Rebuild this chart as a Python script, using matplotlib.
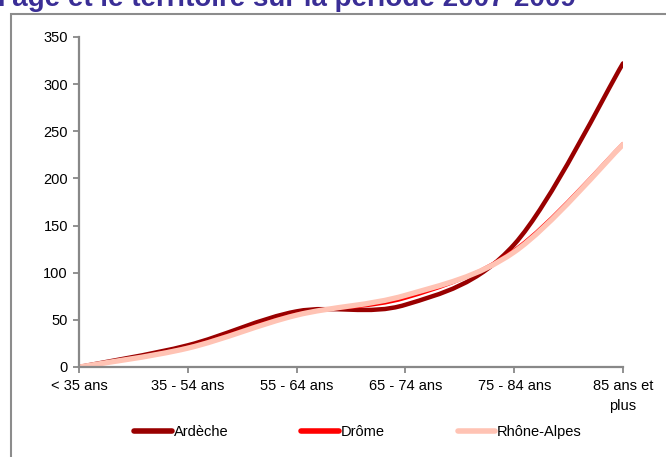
import numpy as np
import matplotlib.pyplot as plt
from matplotlib.path import Path
from matplotlib.patches import PathPatch, Rectangle
from matplotlib.lines import Line2D

plt.rcParams['font.family'] = ['Liberation Sans', 'DejaVu Sans']

age_groups = ["< 35 ans", "35 - 54 ans", "55 - 64 ans", "65 - 74 ans", "75 - 84 ans", "85 ans et\nplus"]
ardeche = [0, 23, 59, 66, 130, 322]
drome = [0, 21, 56, 73, 124, 237]
rhone_alpes = [0, 20, 55, 76, 122, 236]

series_names = ["Ardèche", "Drôme", "Rhône-Alpes"]
series_colors = ["#990000", "#FF0000", "#FFC3B4"]
series_widths = [3.2, 2.4, 3.8]


def smooth_path(xs, ys):
    # cubic Bezier through every point, control points from neighbours
    pts = np.column_stack([xs, ys]).astype(float)
    n = len(pts)
    verts = [pts[0]]
    codes = [Path.MOVETO]
    for i in range(n - 1):
        p0 = pts[max(i - 1, 0)]
        p1 = pts[i]
        p2 = pts[i + 1]
        p3 = pts[min(i + 2, n - 1)]
        c1 = p1 + (p2 - p0) / 6
        c2 = p2 - (p3 - p1) / 6
        verts += [c1, c2, p2]
        codes += [Path.CURVE4] * 3
    return Path(verts, codes)


fig = plt.figure(figsize=(6.66, 4.57), dpi=100)
ax = fig.add_axes([79 / 666, 1 - 367 / 457, (623 - 79) / 666, (367 - 37) / 457])

x = np.arange(len(age_groups))
for vals, color, lw in zip([ardeche, drome, rhone_alpes], series_colors, series_widths):
    patch = PathPatch(smooth_path(x, vals), facecolor="none", edgecolor=color,
                      lw=lw, capstyle="round", joinstyle="round")
    ax.add_patch(patch)

ax.set_xlim(0, len(age_groups) - 1)
ax.set_ylim(0, 350)
ax.set_yticks(range(0, 351, 50))
ax.set_xticks(x)
ax.set_xticklabels(age_groups, fontsize=10.5, linespacing=1.5)
ax.tick_params(axis="y", labelsize=10.5, length=4, width=1.3, color="#888888", pad=4)
ax.tick_params(axis="x", length=4, width=1.3, color="#888888", pad=5)
for side in ["top", "right"]:
    ax.spines[side].set_visible(False)
for side in ["left", "bottom"]:
    ax.spines[side].set_color("#888888")
    ax.spines[side].set_linewidth(1.6)

handles = [Line2D([], [], color=c, lw=4, solid_capstyle="round") for c in series_colors]
fig.legend(handles, series_names, loc="center", bbox_to_anchor=(358 / 666, 1 - 432 / 457),
           ncol=3, frameon=False, fontsize=10.5, handlelength=2.6, handletextpad=0.1,
           columnspacing=5.0)

# outer frame of the chart area
fig.add_artist(Rectangle((11 / 666, -0.1), 1.2, 1 - 14 / 457 + 0.1, transform=fig.transFigure,
                         facecolor="none", edgecolor="#8c8c8c", lw=1.5))

fig.text(-2 / 666, 1 - 6 / 457, "l'âge et le territoire sur la période 2007-2009",
         color="#3A2E96", fontsize=20, fontweight="bold", va="baseline", ha="left")

fig.savefig("out.png", dpi=100)
